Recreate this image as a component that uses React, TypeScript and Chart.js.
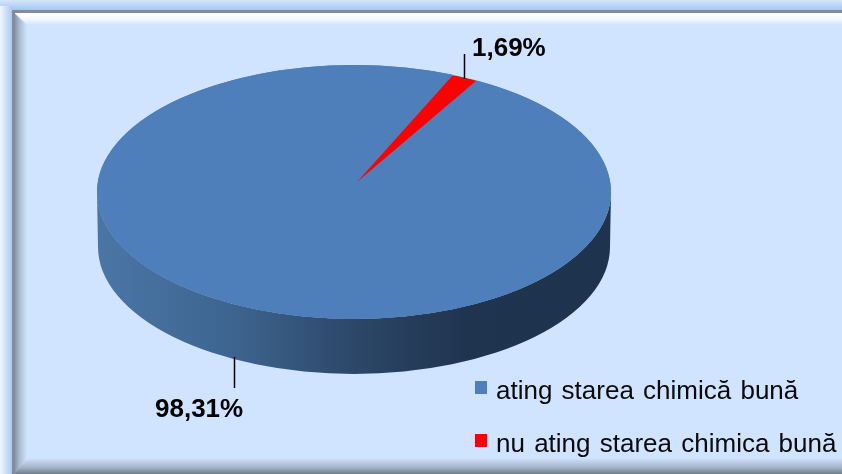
import React, { useEffect, useRef } from "react";
import { Chart, registerables } from "chart.js";

Chart.register(...registerables);

const categories = ["ating starea chimică bună", "nu ating starea chimica bună"];
const shares = [98.31, 1.69];
const shareLabels = ["98,31%", "1,69%"];
const sliceColors = ["#4F7FBA", "#FF0000"];

const SQUASH = 127 / 257;
const DEPTH = 55;
const FONT = '"Liberation Sans", Arial, sans-serif';

const frameAndBackground = {
  id: "frameAndBackground",
  beforeDraw(chart: any) {
    const { ctx, width: w, height: h } = chart;
    ctx.save();
    ctx.fillStyle = "#D0E4FF";
    ctx.fillRect(0, 0, w, h);
    // outer glow
    let g = ctx.createLinearGradient(0, 0, 0, 11);
    g.addColorStop(0, "#D6E6FB");
    g.addColorStop(1, "#9FC3EF");
    ctx.fillStyle = g;
    ctx.fillRect(0, 0, w, 11);
    g = ctx.createLinearGradient(0, 0, 12, 0);
    g.addColorStop(0, "#F2F7FE");
    g.addColorStop(1, "#A9CAF2");
    ctx.fillStyle = g;
    ctx.fillRect(0, 6, 12, h - 6);
    // top bevel highlight
    g = ctx.createLinearGradient(0, 13, 0, 25);
    g.addColorStop(0, "#FFFFFF");
    g.addColorStop(0.5, "#F4F9FF");
    g.addColorStop(1, "#D0E4FF");
    ctx.fillStyle = g;
    ctx.beginPath();
    ctx.moveTo(15, 13);
    ctx.lineTo(w, 13);
    ctx.lineTo(w, 25);
    ctx.lineTo(27, 25);
    ctx.closePath();
    ctx.fill();
    // left bevel shade
    g = ctx.createLinearGradient(14, 0, 27, 0);
    g.addColorStop(0, "#7F8C9C");
    g.addColorStop(0.4, "#A8BAD0");
    g.addColorStop(1, "#D0E4FF");
    ctx.fillStyle = g;
    ctx.beginPath();
    ctx.moveTo(14, 13);
    ctx.lineTo(27, 25);
    ctx.lineTo(27, 458);
    ctx.lineTo(14, h);
    ctx.closePath();
    ctx.fill();
    // bottom bevel shade
    g = ctx.createLinearGradient(0, 458, 0, h);
    g.addColorStop(0, "#D0E4FF");
    g.addColorStop(0.6, "#A4B3C6");
    g.addColorStop(1, "#6F7C8B");
    ctx.fillStyle = g;
    ctx.beginPath();
    ctx.moveTo(27, 458);
    ctx.lineTo(w, 458);
    ctx.lineTo(w, h);
    ctx.lineTo(14, h);
    ctx.closePath();
    ctx.fill();
    // dark frame line
    ctx.fillStyle = "#858B94";
    ctx.fillRect(12, 10, w - 12, 3);
    ctx.fillRect(12, 10, 3, h - 10);
    ctx.restore();
  },
};

const tiltedPie = {
  id: "tiltedPie",
  beforeDatasetDraw(chart: any) {
    const { ctx } = chart;
    const arcs = chart.getDatasetMeta(0).data;
    const { x: cx, y: cy, outerRadius: r } = arcs[0];
    const ry = r * SQUASH;

    // side wall
    ctx.save();
    const g = ctx.createLinearGradient(cx - r, 0, cx + r, 0);
    g.addColorStop(0, "#4A76A6");
    g.addColorStop(0.27, "#3D648F");
    g.addColorStop(0.5, "#2C4768");
    g.addColorStop(0.72, "#1F344F");
    g.addColorStop(1, "#1E334E");
    ctx.fillStyle = g;
    ctx.beginPath();
    ctx.ellipse(cx, cy, r, ry, 0, Math.PI, 0, true);
    ctx.lineTo(cx + r - 1, cy + DEPTH);
    ctx.ellipse(cx, cy + DEPTH, r - 1, ry, 0, 0, Math.PI, false);
    ctx.closePath();
    ctx.fill();
    ctx.restore();

    // top face: full disc under the slices, so the shifted small slice leaves no gap
    ctx.save();
    ctx.fillStyle = sliceColors[0];
    ctx.beginPath();
    ctx.ellipse(cx, cy, r, ry, 0, 0, Math.PI * 2);
    ctx.fill();
    ctx.translate(cx, cy);
    ctx.scale(1, SQUASH);
    ctx.translate(-cx, -cy);
    arcs[0].draw(ctx);
    ctx.restore();

    // small slice: seen in perspective, its apex sits above the ellipse centre
    const red = arcs[1];
    const apex = [357, 182];
    const e1 = [453, 75];
    const e2 = [476, 81];
    const u = [r * Math.cos(red.startAngle), r * Math.sin(red.startAngle)];
    const v = [r * Math.cos(red.endAngle), r * Math.sin(red.endAngle)];
    const det = u[0] * v[1] - u[1] * v[0];
    const d1 = [e1[0] - apex[0], e1[1] - apex[1]];
    const d2 = [e2[0] - apex[0], e2[1] - apex[1]];
    const a = (d1[0] * v[1] - d2[0] * u[1]) / det;
    const c = (d2[0] * u[0] - d1[0] * v[0]) / det;
    const b = (d1[1] * v[1] - d2[1] * u[1]) / det;
    const d = (d2[1] * u[0] - d1[1] * v[0]) / det;
    ctx.save();
    ctx.beginPath();
    ctx.ellipse(cx, cy, r, ry, 0, 0, Math.PI * 2);
    ctx.clip();
    ctx.transform(a, b, c, d, apex[0], apex[1]);
    ctx.translate(-cx, -cy);
    red.draw(ctx);
    ctx.restore();
    return false;
  },
};

const annotations = {
  id: "annotations",
  afterDraw(chart: any) {
    const { ctx } = chart;
    ctx.save();
    ctx.strokeStyle = "#000000";
    ctx.lineWidth = 1.5;
    ctx.beginPath();
    ctx.moveTo(464.5, 54);
    ctx.lineTo(464.5, 79);
    ctx.moveTo(234.5, 357);
    ctx.lineTo(234.5, 388);
    ctx.stroke();

    ctx.fillStyle = "#000000";
    ctx.textBaseline = "alphabetic";
    ctx.textAlign = "left";
    ctx.font = `bold 26px ${FONT}`;
    ctx.fillText(shareLabels[0], 155, 417);
    ctx.fillText(shareLabels[1], 472, 56);

    ctx.font = `26px ${FONT}`;
    ctx.wordSpacing = "2px";
    const rows = [
      { box: 381, text: 399 },
      { box: 434, text: 452 },
    ];
    categories.forEach((label, i) => {
      ctx.fillStyle = sliceColors[i];
      ctx.fillRect(475, rows[i].box, 12, 13);
      ctx.fillStyle = "#0A0A0A";
      ctx.fillText(label, 496, rows[i].text);
    });
    ctx.restore();
  },
};

export default function App() {
  const ref = useRef<HTMLCanvasElement>(null);
  useEffect(() => {
    document.body.style.margin = "0";
    const chart = new Chart(ref.current!, {
      type: "pie",
      data: {
        labels: categories,
        datasets: [
          {
            data: shares,
            backgroundColor: sliceColors,
            borderWidth: 0,
          },
        ],
      },
      options: {
        responsive: false,
        animation: false,
        rotation: 28.5,
        radius: 257,
        layout: { padding: { left: 0, right: 134, top: 0, bottom: 90 } },
        plugins: { legend: { display: false }, tooltip: { enabled: false } },
      } as any,
      plugins: [frameAndBackground, tiltedPie, annotations],
    });
    return () => chart.destroy();
  }, []);
  return <canvas ref={ref} width={842} height={474} style={{ display: "block" }} />;
}
